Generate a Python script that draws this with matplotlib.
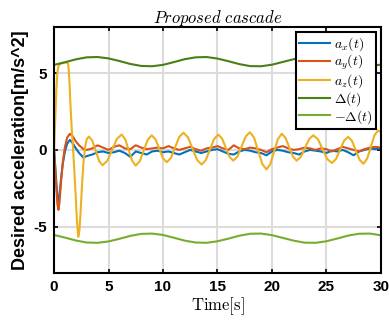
import matplotlib
matplotlib.use("Agg")
import matplotlib.pyplot as plt

plt.rcParams["mathtext.fontset"] = "cm"

# --- data ------------------------------------------------------------------
t_delta = list(range(0, 31))
delta = [5.53, 5.70, 5.89, 6.02, 6.04, 5.95, 5.78, 5.59, 5.46, 5.44,
         5.53, 5.71, 5.90, 6.02, 6.04, 5.94, 5.77, 5.58, 5.45, 5.44,
         5.54, 5.72, 5.90, 6.03, 6.04, 5.94, 5.76, 5.57, 5.45, 5.44, 5.55]

t_az = [0.0, 0.1, 0.2, 0.3, 0.4, 0.55, 0.8, 1.1, 1.3, 1.4, 1.5, 1.62, 1.75,
        1.88, 2.0, 2.1, 2.22, 2.32, 2.42, 2.55, 2.7, 2.85, 3.0, 3.2,
        3.51, 3.83, 4.14, 4.45, 4.89, 5.33, 5.76, 6.2, 6.53, 6.85, 7.18, 7.5,
        7.87, 8.23, 8.6, 8.96, 9.31, 9.66, 10.0, 10.35, 10.73, 11.11, 11.49,
        11.87, 12.29, 12.71, 13.13, 13.55, 13.93, 14.31, 14.69, 15.07, 15.42,
        15.76, 16.11, 16.45, 16.83, 17.22, 17.6, 17.98, 18.36, 18.74, 19.12,
        19.5, 19.85, 20.2, 20.55, 20.9, 21.24, 21.59, 21.93, 22.27, 22.65,
        23.04, 23.42, 23.8, 24.23, 24.65, 25.08, 25.5, 25.88, 26.25, 26.63,
        27.0, 27.35, 27.7, 28.05, 28.4, 28.74, 29.08, 29.41, 29.75, 30.0]
a_z = [0.0, 1.8, 3.8, 5.0, 5.45, 5.6, 5.65, 5.7, 5.6, 4.6, 3.0, 1.4, 0.0,
       -1.6, -3.2, -4.6, -5.65, -5.3, -4.2, -2.5, -0.8, 0.2, 0.7, 0.87,
       0.60, -0.07, -0.73, -1.0, -0.71, 0.0, 0.71, 1.0, 0.70, -0.01, -0.72, -1.02,
       -0.73, -0.04, 0.66, 0.95, 0.69, 0.08, -0.54, -0.8, -0.52, 0.16, 0.84,
       1.12, 0.82, 0.09, -0.65, -0.95, -0.66, 0.03, 0.71, 1.0, 0.75,
       0.15, -0.45, -0.7, -0.43, 0.23, 0.88, 1.15, 0.80, -0.06, -0.92,
       -1.27, -0.93, -0.11, 0.71, 1.05, 0.79, 0.18, -0.44, -0.7, -0.46,
       0.13, 0.71, 0.95, 0.69, 0.05, -0.59, -0.85, -0.6, 0.0, 0.6,
       0.85, 0.59, -0.03, -0.64, -0.9, -0.58, 0.19, 0.95, 1.27, 1.15]

t_xy = [0.0, 0.15, 0.3, 0.4, 0.5, 0.65, 0.8, 1.0, 1.2, 1.45, 1.7, 2.0, 2.3,
        2.7, 3.0, 3.5, 4.0, 4.5, 5.0, 5.5, 6.0, 6.5, 7.0, 7.5, 8.0, 8.5, 9.0,
        9.5, 10.0, 10.5, 11.0, 11.5, 12.0, 12.5, 13.0, 13.5, 14.0, 14.5, 15.0,
        15.5, 16.0, 16.5, 17.0, 17.5, 18.0, 18.5, 19.0, 19.5, 20.0, 20.5, 21.0,
        21.5, 22.0, 22.5, 23.0, 23.5, 24.0, 24.5, 25.0, 25.5, 26.0, 26.5, 27.0,
        27.5, 28.0, 28.5, 29.0, 29.5, 30.0]
a_x = [0.0, -1.5, -3.0, -3.3, -2.9, -1.8, -0.9, -0.1, 0.4, 0.65, 0.45, 0.1, -0.2,
       -0.5, -0.4, -0.3, -0.15, -0.1, -0.2, -0.15, -0.05, -0.2, -0.45, -0.1,
       -0.2, -0.3, -0.1, -0.05, -0.15, -0.1, -0.2, -0.3, -0.15, 0.0, -0.1,
       -0.2, -0.1, 0.0, 0.05, -0.1, -0.25, -0.3, -0.1, 0.0, -0.05, -0.15, -0.2,
       -0.35, -0.1, 0.0, -0.05, -0.15, -0.2, -0.3, -0.1, 0.0, -0.05, -0.1, -0.2,
       -0.05, -0.1, 0.0, -0.15, -0.35, -0.1, 0.0, 0.1, 0.05, 0.1]
a_y = [0.0, -1.8, -3.5, -3.9, -3.4, -2.0, -0.8, 0.2, 0.8, 1.05, 0.9, 0.55, 0.3,
       0.05, 0.0, 0.1, 0.3, 0.15, 0.0, 0.2, 0.3, 0.1, 0.05, 0.3, 0.15, 0.05,
       0.1, 0.15, 0.1, 0.25, 0.1, 0.0, 0.1, 0.2, 0.05, -0.05, 0.1, 0.15, 0.25,
       0.1, 0.0, 0.3, 0.1, 0.05, 0.15, 0.1, 0.0, -0.15, 0.05, 0.15, 0.25, 0.1,
       0.0, 0.05, 0.15, 0.1, 0.0, 0.1, 0.05, -0.1, 0.05, 0.2, 0.1, 0.0, -0.1,
       0.05, 0.15, 0.2, 0.15]

x_ticks = [0, 5, 10, 15, 20, 25, 30]
y_ticks = [-5, 0, 5]

# --- figure ----------------------------------------------------------------
fig = plt.figure(figsize=(3.89, 3.2), dpi=100)
ax = fig.add_axes([0.139, 0.147, 0.840, 0.769])

lw = 1.5
ax.plot(t_xy, a_x, color="#0072BD", lw=lw, label=r"$a_x(t)$")
ax.plot(t_xy, a_y, color="#D95319", lw=lw, label=r"$a_y(t)$")
ax.plot(t_az, a_z, color="#EDB120", lw=lw, label=r"$a_z(t)$")
ax.plot(t_delta, delta, color="#4A7F17", lw=lw, label=r"$\Delta(t)$")
ax.plot(t_delta, [-d for d in delta], color="#77AC30", lw=lw,
        label=r"$-\Delta(t)$")

ax.set_xlim(0, 30)
ax.set_ylim(-8, 8)
ax.set_xticks(x_ticks)
ax.set_yticks(y_ticks)
ax.set_xticklabels([str(v) for v in x_ticks], fontweight="bold",
                   family="Liberation Sans", fontsize=11)
ax.set_yticklabels([str(v) for v in y_ticks], fontweight="bold",
                   family="Liberation Sans", fontsize=11)
ax.tick_params(direction="in", length=3, width=1.2, top=True, right=True,
               pad=5)
ax.grid(True, color="#dcdcdc", lw=1.5)
ax.set_axisbelow(True)
for s in ax.spines.values():
    s.set_linewidth(1.5)

ax.set_title(r"$\mathit{Proposed\ cascade}$", fontsize=12, pad=3)
ax.set_xlabel(r"$\mathrm{Time[s]}$", fontsize=12, labelpad=1)
ax.set_ylabel("Desired acceleration[m/s^2]", fontweight="bold",
              family="Liberation Sans", fontsize=13, labelpad=3)

leg = ax.legend(loc="upper right", fontsize=10, frameon=True, fancybox=False,
                handlelength=2.2, handletextpad=0.3, borderpad=0.25,
                labelspacing=0.0, borderaxespad=0.35)
leg.get_frame().set_edgecolor("black")
leg.get_frame().set_linewidth(1.5)
leg.get_frame().set_alpha(1)

fig.savefig("out.png", dpi=100, facecolor="white")
